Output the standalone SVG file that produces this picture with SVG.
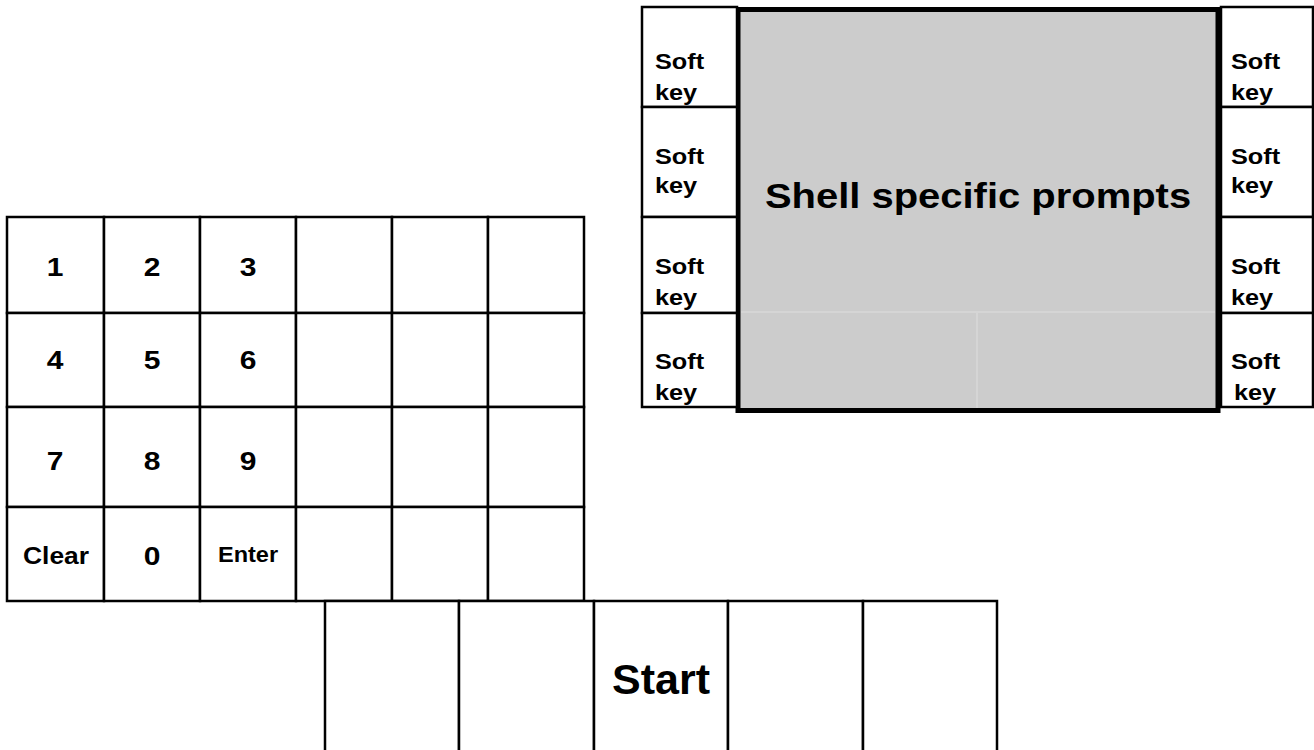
<svg xmlns="http://www.w3.org/2000/svg" width="1314" height="750" viewBox="0 0 1314 750">
<style>
.k{fill:#fff;stroke:#000;stroke-width:2.5}
.t{font-family:"Liberation Sans",Arial,sans-serif;font-weight:bold;fill:#000}
.s{font-size:22px}
.d{font-size:25px;text-anchor:middle}
.faint{stroke:#d9d9d9;stroke-width:1.5;fill:none}
</style>
<rect width="1314" height="750" fill="#fff"/>

<g id="display">
<rect x="738" y="9.5" width="480" height="401" fill="#cccccc" stroke="#000" stroke-width="5"/>
<line class="faint" x1="741" y1="312" x2="1215" y2="312"/>
<line class="faint" x1="977" y1="313" x2="977" y2="408"/>
<text class="t" font-size="36" text-anchor="middle" transform="translate(978,208) scale(1.11,1)">Shell specific prompts</text>
</g>

<g id="softkey-left-1"><rect class="k" x="642" y="7" width="95" height="100"/>
<text class="t s" transform="translate(655,69) scale(1.15,1)">Soft</text><text class="t s" transform="translate(655,100) scale(1.15,1)">key</text></g>
<g id="softkey-left-2"><rect class="k" x="642" y="107" width="95" height="110"/>
<text class="t s" transform="translate(655,164) scale(1.15,1)">Soft</text><text class="t s" transform="translate(655,193) scale(1.15,1)">key</text></g>
<g id="softkey-left-3"><rect class="k" x="642" y="217" width="95" height="96"/>
<text class="t s" transform="translate(655,274) scale(1.15,1)">Soft</text><text class="t s" transform="translate(655,305) scale(1.15,1)">key</text></g>
<g id="softkey-left-4"><rect class="k" x="642" y="313" width="95" height="94"/>
<text class="t s" transform="translate(655,369) scale(1.15,1)">Soft</text><text class="t s" transform="translate(655,400) scale(1.15,1)">key</text></g>

<g id="softkey-right-1"><rect class="k" x="1221" y="7" width="92" height="100"/>
<text class="t s" transform="translate(1231,69) scale(1.15,1)">Soft</text><text class="t s" transform="translate(1231,100) scale(1.15,1)">key</text></g>
<g id="softkey-right-2"><rect class="k" x="1221" y="107" width="92" height="110"/>
<text class="t s" transform="translate(1231,164) scale(1.15,1)">Soft</text><text class="t s" transform="translate(1231,193) scale(1.15,1)">key</text></g>
<g id="softkey-right-3"><rect class="k" x="1221" y="217" width="92" height="96"/>
<text class="t s" transform="translate(1231,274) scale(1.15,1)">Soft</text><text class="t s" transform="translate(1231,305) scale(1.15,1)">key</text></g>
<g id="softkey-right-4"><rect class="k" x="1221" y="313" width="92" height="94"/>
<text class="t s" transform="translate(1231,369) scale(1.15,1)">Soft</text><text class="t s" transform="translate(1234,400) scale(1.15,1)">key</text></g>

<g id="key-1"><rect class="k" x="7" y="217" width="97" height="96"/><text class="t d" transform="translate(55,276) scale(1.2,1)">1</text></g>
<g id="key-2"><rect class="k" x="104" y="217" width="96" height="96"/><text class="t d" transform="translate(152,276) scale(1.2,1)">2</text></g>
<g id="key-3"><rect class="k" x="200" y="217" width="96" height="96"/><text class="t d" transform="translate(248,276) scale(1.2,1)">3</text></g>
<g id="key-r1c4"><rect class="k" x="296" y="217" width="96" height="96"/></g>
<g id="key-r1c5"><rect class="k" x="392" y="217" width="96" height="96"/></g>
<g id="key-r1c6"><rect class="k" x="488" y="217" width="96" height="96"/></g>

<g id="key-4"><rect class="k" x="7" y="313" width="97" height="94"/><text class="t d" transform="translate(55,369) scale(1.2,1)">4</text></g>
<g id="key-5"><rect class="k" x="104" y="313" width="96" height="94"/><text class="t d" transform="translate(152,369) scale(1.2,1)">5</text></g>
<g id="key-6"><rect class="k" x="200" y="313" width="96" height="94"/><text class="t d" transform="translate(248,369) scale(1.2,1)">6</text></g>
<g id="key-r2c4"><rect class="k" x="296" y="313" width="96" height="94"/></g>
<g id="key-r2c5"><rect class="k" x="392" y="313" width="96" height="94"/></g>
<g id="key-r2c6"><rect class="k" x="488" y="313" width="96" height="94"/></g>

<g id="key-7"><rect class="k" x="7" y="407" width="97" height="100"/><text class="t d" transform="translate(55,470) scale(1.2,1)">7</text></g>
<g id="key-8"><rect class="k" x="104" y="407" width="96" height="100"/><text class="t d" transform="translate(152,470) scale(1.2,1)">8</text></g>
<g id="key-9"><rect class="k" x="200" y="407" width="96" height="100"/><text class="t d" transform="translate(248,470) scale(1.2,1)">9</text></g>
<g id="key-r3c4"><rect class="k" x="296" y="407" width="96" height="100"/></g>
<g id="key-r3c5"><rect class="k" x="392" y="407" width="96" height="100"/></g>
<g id="key-r3c6"><rect class="k" x="488" y="407" width="96" height="100"/></g>

<g id="key-clear"><rect class="k" x="7" y="507" width="97" height="94"/><text class="t" font-size="24" text-anchor="middle" transform="translate(56,564) scale(1.1,1)">Clear</text></g>
<g id="key-0"><rect class="k" x="104" y="507" width="96" height="94"/><text class="t d" transform="translate(152,565) scale(1.2,1)">0</text></g>
<g id="key-enter"><rect class="k" x="200" y="507" width="96" height="94"/><text class="t" font-size="22" text-anchor="middle" transform="translate(248,562) scale(1.07,1)">Enter</text></g>
<g id="key-r4c4"><rect class="k" x="296" y="507" width="96" height="94"/></g>
<g id="key-r4c5"><rect class="k" x="392" y="507" width="96" height="94"/></g>
<g id="key-r4c6"><rect class="k" x="488" y="507" width="96" height="94"/></g>

<g id="bottom-1"><rect class="k" x="325" y="601" width="134" height="160"/></g>
<g id="bottom-2"><rect class="k" x="459" y="601" width="135" height="160"/></g>
<g id="bottom-start"><rect class="k" x="594" y="601" width="134" height="160"/><text class="t" font-size="43" text-anchor="middle" transform="translate(661,694)">Start</text></g>
<g id="bottom-4"><rect class="k" x="728" y="601" width="135" height="160"/></g>
<g id="bottom-5"><rect class="k" x="863" y="601" width="134" height="160"/></g>
</svg>
